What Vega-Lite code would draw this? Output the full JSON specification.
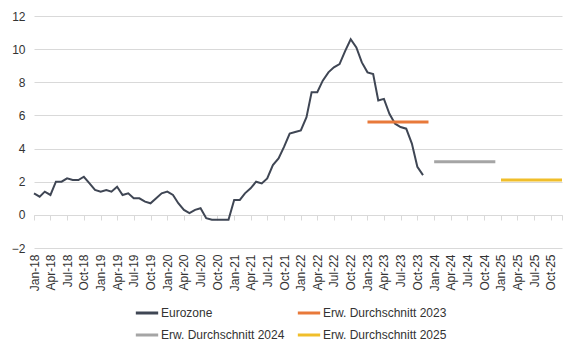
{
  "$schema": "https://vega.github.io/schema/vega-lite/v6.json",
  "width": 528,
  "height": 232,
  "autosize": {"type": "none"},
  "padding": {"left": 34, "top": 16, "right": 15, "bottom": 103},
  "background": "white",
  "config": {
    "font": "Liberation Sans",
    "view": {"stroke": null},
    "axis": {"labelFont": "Liberation Sans", "labelFontSize": 12, "labelColor": "#333333"},
    "legend": {"labelFont": "Liberation Sans", "labelFontSize": 12, "labelColor": "#333333"}
  },
  "datasets": {
    "euro": [
      {"date": "2018-01-01", "series": "Eurozone", "value": 1.3},
      {"date": "2018-02-01", "series": "Eurozone", "value": 1.1},
      {"date": "2018-03-01", "series": "Eurozone", "value": 1.4},
      {"date": "2018-04-01", "series": "Eurozone", "value": 1.2},
      {"date": "2018-05-01", "series": "Eurozone", "value": 2.0},
      {"date": "2018-06-01", "series": "Eurozone", "value": 2.0},
      {"date": "2018-07-01", "series": "Eurozone", "value": 2.2},
      {"date": "2018-08-01", "series": "Eurozone", "value": 2.1},
      {"date": "2018-09-01", "series": "Eurozone", "value": 2.1},
      {"date": "2018-10-01", "series": "Eurozone", "value": 2.3},
      {"date": "2018-11-01", "series": "Eurozone", "value": 1.9},
      {"date": "2018-12-01", "series": "Eurozone", "value": 1.5},
      {"date": "2019-01-01", "series": "Eurozone", "value": 1.4},
      {"date": "2019-02-01", "series": "Eurozone", "value": 1.5},
      {"date": "2019-03-01", "series": "Eurozone", "value": 1.4},
      {"date": "2019-04-01", "series": "Eurozone", "value": 1.7},
      {"date": "2019-05-01", "series": "Eurozone", "value": 1.2},
      {"date": "2019-06-01", "series": "Eurozone", "value": 1.3},
      {"date": "2019-07-01", "series": "Eurozone", "value": 1.0},
      {"date": "2019-08-01", "series": "Eurozone", "value": 1.0},
      {"date": "2019-09-01", "series": "Eurozone", "value": 0.8},
      {"date": "2019-10-01", "series": "Eurozone", "value": 0.7},
      {"date": "2019-11-01", "series": "Eurozone", "value": 1.0},
      {"date": "2019-12-01", "series": "Eurozone", "value": 1.3},
      {"date": "2020-01-01", "series": "Eurozone", "value": 1.4},
      {"date": "2020-02-01", "series": "Eurozone", "value": 1.2},
      {"date": "2020-03-01", "series": "Eurozone", "value": 0.7},
      {"date": "2020-04-01", "series": "Eurozone", "value": 0.3},
      {"date": "2020-05-01", "series": "Eurozone", "value": 0.1},
      {"date": "2020-06-01", "series": "Eurozone", "value": 0.3},
      {"date": "2020-07-01", "series": "Eurozone", "value": 0.4},
      {"date": "2020-08-01", "series": "Eurozone", "value": -0.2},
      {"date": "2020-09-01", "series": "Eurozone", "value": -0.3},
      {"date": "2020-10-01", "series": "Eurozone", "value": -0.3},
      {"date": "2020-11-01", "series": "Eurozone", "value": -0.3},
      {"date": "2020-12-01", "series": "Eurozone", "value": -0.3},
      {"date": "2021-01-01", "series": "Eurozone", "value": 0.9},
      {"date": "2021-02-01", "series": "Eurozone", "value": 0.9},
      {"date": "2021-03-01", "series": "Eurozone", "value": 1.3},
      {"date": "2021-04-01", "series": "Eurozone", "value": 1.6},
      {"date": "2021-05-01", "series": "Eurozone", "value": 2.0},
      {"date": "2021-06-01", "series": "Eurozone", "value": 1.9},
      {"date": "2021-07-01", "series": "Eurozone", "value": 2.2},
      {"date": "2021-08-01", "series": "Eurozone", "value": 3.0},
      {"date": "2021-09-01", "series": "Eurozone", "value": 3.4},
      {"date": "2021-10-01", "series": "Eurozone", "value": 4.1},
      {"date": "2021-11-01", "series": "Eurozone", "value": 4.9},
      {"date": "2021-12-01", "series": "Eurozone", "value": 5.0},
      {"date": "2022-01-01", "series": "Eurozone", "value": 5.1},
      {"date": "2022-02-01", "series": "Eurozone", "value": 5.9},
      {"date": "2022-03-01", "series": "Eurozone", "value": 7.4},
      {"date": "2022-04-01", "series": "Eurozone", "value": 7.4},
      {"date": "2022-05-01", "series": "Eurozone", "value": 8.1},
      {"date": "2022-06-01", "series": "Eurozone", "value": 8.6},
      {"date": "2022-07-01", "series": "Eurozone", "value": 8.9},
      {"date": "2022-08-01", "series": "Eurozone", "value": 9.1},
      {"date": "2022-09-01", "series": "Eurozone", "value": 9.9},
      {"date": "2022-10-01", "series": "Eurozone", "value": 10.6},
      {"date": "2022-11-01", "series": "Eurozone", "value": 10.1},
      {"date": "2022-12-01", "series": "Eurozone", "value": 9.2},
      {"date": "2023-01-01", "series": "Eurozone", "value": 8.6},
      {"date": "2023-02-01", "series": "Eurozone", "value": 8.5},
      {"date": "2023-03-01", "series": "Eurozone", "value": 6.9},
      {"date": "2023-04-01", "series": "Eurozone", "value": 7.0},
      {"date": "2023-05-01", "series": "Eurozone", "value": 6.1},
      {"date": "2023-06-01", "series": "Eurozone", "value": 5.5},
      {"date": "2023-07-01", "series": "Eurozone", "value": 5.3},
      {"date": "2023-08-01", "series": "Eurozone", "value": 5.2},
      {"date": "2023-09-01", "series": "Eurozone", "value": 4.3},
      {"date": "2023-10-01", "series": "Eurozone", "value": 2.9},
      {"date": "2023-11-01", "series": "Eurozone", "value": 2.4}
    ],
    "avg": [
      {"date": "2023-01-01", "series": "Erw. Durchschnitt 2023", "value": 5.6},
      {"date": "2023-12-01", "series": "Erw. Durchschnitt 2023", "value": 5.6},
      {"date": "2024-01-01", "series": "Erw. Durchschnitt 2024", "value": 3.2},
      {"date": "2024-12-01", "series": "Erw. Durchschnitt 2024", "value": 3.2},
      {"date": "2025-01-01", "series": "Erw. Durchschnitt 2025", "value": 2.1},
      {"date": "2025-12-01", "series": "Erw. Durchschnitt 2025", "value": 2.1}
    ]
  },
  "resolve": {"axis": {"x": "independent"}},
  "encoding": {
    "y": {
      "field": "value", "type": "quantitative",
      "scale": {"domain": [-2, 12], "nice": false, "zero": false},
      "axis": {"title": null, "values": [-2, 0, 2, 4, 6, 8, 10, 12], "domain": false, "ticks": false, "grid": true, "gridColor": "#d9d9d9", "gridWidth": 1, "labelPadding": 9}
    },
    "color": {
      "field": "series", "type": "nominal",
      "scale": {"domain": ["Eurozone", "Erw. Durchschnitt 2024", "Erw. Durchschnitt 2023", "Erw. Durchschnitt 2025"], "range": ["#3f4654", "#a5a5a5", "#e8793a", "#f0be2a"]},
      "legend": {"title": null, "orient": "none", "legendX": 100, "legendY": 284, "columns": 2, "symbolType": "stroke", "symbolSize": 500, "symbolStrokeWidth": 3, "labelOffset": 1, "columnPadding": 6, "rowPadding": 3}
    }
  },
  "layer": [
    {
      "data": {"name": "euro"},
      "mark": {"type": "line", "strokeWidth": 2},
      "encoding": {
        "x": {
          "field": "date", "type": "temporal", "timeUnit": "yearmonth",
          "scale": {"domain": [{"year": 2018, "month": 1, "date": 1}, {"year": 2025, "month": 12, "date": 1}]},
          "axis": {"orient": "bottom", "title": null, "format": "%b-%y", "labelAngle": -90, "labelPadding": 6, "domain": false, "ticks": false, "grid": false,
            "values": [
              {"year": 2018, "month": 1, "date": 1}, {"year": 2018, "month": 4, "date": 1}, {"year": 2018, "month": 7, "date": 1}, {"year": 2018, "month": 10, "date": 1},
              {"year": 2019, "month": 1, "date": 1}, {"year": 2019, "month": 4, "date": 1}, {"year": 2019, "month": 7, "date": 1}, {"year": 2019, "month": 10, "date": 1},
              {"year": 2020, "month": 1, "date": 1}, {"year": 2020, "month": 4, "date": 1}, {"year": 2020, "month": 7, "date": 1}, {"year": 2020, "month": 10, "date": 1},
              {"year": 2021, "month": 1, "date": 1}, {"year": 2021, "month": 4, "date": 1}, {"year": 2021, "month": 7, "date": 1}, {"year": 2021, "month": 10, "date": 1},
              {"year": 2022, "month": 1, "date": 1}, {"year": 2022, "month": 4, "date": 1}, {"year": 2022, "month": 7, "date": 1}, {"year": 2022, "month": 10, "date": 1},
              {"year": 2023, "month": 1, "date": 1}, {"year": 2023, "month": 4, "date": 1}, {"year": 2023, "month": 7, "date": 1}, {"year": 2023, "month": 10, "date": 1},
              {"year": 2024, "month": 1, "date": 1}, {"year": 2024, "month": 4, "date": 1}, {"year": 2024, "month": 7, "date": 1}, {"year": 2024, "month": 10, "date": 1},
              {"year": 2025, "month": 1, "date": 1}, {"year": 2025, "month": 4, "date": 1}, {"year": 2025, "month": 7, "date": 1}, {"year": 2025, "month": 10, "date": 1}
            ]}
        }
      }
    },
    {
      "data": {"name": "avg"},
      "mark": {"type": "line", "strokeWidth": 3},
      "encoding": {
        "x": {
          "field": "date", "type": "temporal", "timeUnit": "yearmonth",
          "axis": {"orient": "bottom", "title": null, "labels": false, "offset": -33, "domain": true, "domainColor": "#d9d9d9", "ticks": true, "tickColor": "#d9d9d9", "tickSize": 5, "grid": false,
            "values": [
              {"year": 2018, "month": 1, "date": 1}, {"year": 2018, "month": 4, "date": 1}, {"year": 2018, "month": 7, "date": 1}, {"year": 2018, "month": 10, "date": 1},
              {"year": 2019, "month": 1, "date": 1}, {"year": 2019, "month": 4, "date": 1}, {"year": 2019, "month": 7, "date": 1}, {"year": 2019, "month": 10, "date": 1},
              {"year": 2020, "month": 1, "date": 1}, {"year": 2020, "month": 4, "date": 1}, {"year": 2020, "month": 7, "date": 1}, {"year": 2020, "month": 10, "date": 1},
              {"year": 2021, "month": 1, "date": 1}, {"year": 2021, "month": 4, "date": 1}, {"year": 2021, "month": 7, "date": 1}, {"year": 2021, "month": 10, "date": 1},
              {"year": 2022, "month": 1, "date": 1}, {"year": 2022, "month": 4, "date": 1}, {"year": 2022, "month": 7, "date": 1}, {"year": 2022, "month": 10, "date": 1},
              {"year": 2023, "month": 1, "date": 1}, {"year": 2023, "month": 4, "date": 1}, {"year": 2023, "month": 7, "date": 1}, {"year": 2023, "month": 10, "date": 1},
              {"year": 2024, "month": 1, "date": 1}, {"year": 2024, "month": 4, "date": 1}, {"year": 2024, "month": 7, "date": 1}, {"year": 2024, "month": 10, "date": 1},
              {"year": 2025, "month": 1, "date": 1}, {"year": 2025, "month": 4, "date": 1}, {"year": 2025, "month": 7, "date": 1}, {"year": 2025, "month": 10, "date": 1},
              {"year": 2025, "month": 12, "date": 1}
            ]}
        }
      }
    }
  ]
}
